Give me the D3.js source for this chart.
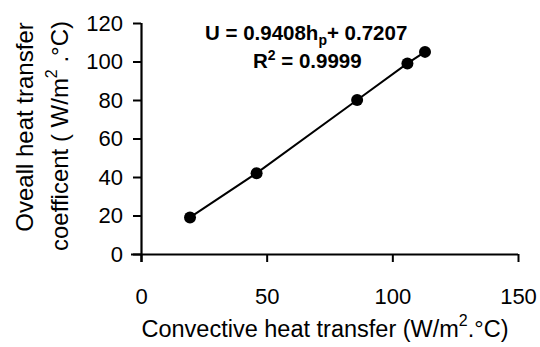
<!DOCTYPE html>
<html><head><meta charset="utf-8">
<script src="https://cdn.jsdelivr.net/npm/d3@7"></script>
<style>body{margin:0;background:#fff}svg{display:block}text{font-family:"Liberation Sans",Arial,sans-serif;fill:#000}</style>
</head><body>
<svg id="c" width="540" height="347"></svg>
<script>
const hp = [19.5, 46, 86, 106, 113];
const U = [19, 42, 80, 99, 105];
const xTicks = [0, 50, 100, 150];
const yTicks = [0, 20, 40, 60, 80, 100, 120];

const svg = d3.select("#c");
const x = d3.scaleLinear().domain([0,150]).range([141,518]);
const y = d3.scaleLinear().domain([0,120]).range([254,23]);

const xa = svg.append("g").attr("transform","translate(0,254)")
  .call(d3.axisBottom(x).tickValues(xTicks).tickSize(8).tickPadding(26).tickSizeOuter(0));
xa.select(".domain").attr("d", `M${x(0)-10},0.5H${x(150)}`);
const ya = svg.append("g").attr("transform","translate(141,0)")
  .call(d3.axisLeft(y).tickValues(yTicks).tickSize(8).tickPadding(10).tickSizeOuter(0));
ya.select(".domain").attr("d", `M0.5,${y(120)}V${y(0)+8}`);
svg.selectAll(".tick line").attr("stroke","#000").attr("stroke-width",2);
svg.selectAll(".domain").attr("stroke","#000").attr("stroke-width",2.2);
svg.selectAll(".tick text").style("font-size","22px").attr("fill","#000");

const pts = hp.map((v,i)=>[v,U[i]]);
svg.append("path").attr("d", d3.line().x(d=>x(d[0])).y(d=>y(d[1]))(pts))
  .attr("fill","none").attr("stroke","#000").attr("stroke-width",2);
svg.selectAll("circle.p").data(pts).join("circle").attr("class","p")
  .attr("cx",d=>x(d[0])).attr("cy",d=>y(d[1])).attr("r",6).attr("fill","#000");

const eq = svg.append("text").attr("x",205).attr("y",40).style("font-size","20.5px").style("font-weight","bold");
eq.append("tspan").text("U = 0.9408h");
eq.append("tspan").attr("dy",5).style("font-size","14px").text("p");
eq.append("tspan").attr("dy",-5).text("+ 0.7207");
const r2 = svg.append("text").attr("x",253).attr("y",68).style("font-size","20.5px").style("font-weight","bold");
r2.append("tspan").text("R");
r2.append("tspan").attr("dy",-8).style("font-size","14px").text("2");
r2.append("tspan").attr("dy",8).text(" = 0.9999");

const xl = svg.append("text").attr("x",325).attr("y",337).attr("text-anchor","middle").style("font-size","23.5px");
xl.append("tspan").text("Convective heat transfer (W/m");
xl.append("tspan").attr("dy",-11).style("font-size","16px").text("2");
xl.append("tspan").attr("dy",11).text(".°C)");

svg.append("text").attr("transform","translate(33,127) rotate(-90)").attr("text-anchor","middle").style("font-size","24px")
  .text("Oveall heat transfer");
const yl2 = svg.append("text").attr("transform","translate(68,136) rotate(-90)").attr("text-anchor","middle").style("font-size","24px");
yl2.append("tspan").text("coefficent ( W/m");
yl2.append("tspan").attr("dy",-11).style("font-size","16px").text("2");
yl2.append("tspan").attr("dy",11).text(" .°C)");
</script>
</body></html>
